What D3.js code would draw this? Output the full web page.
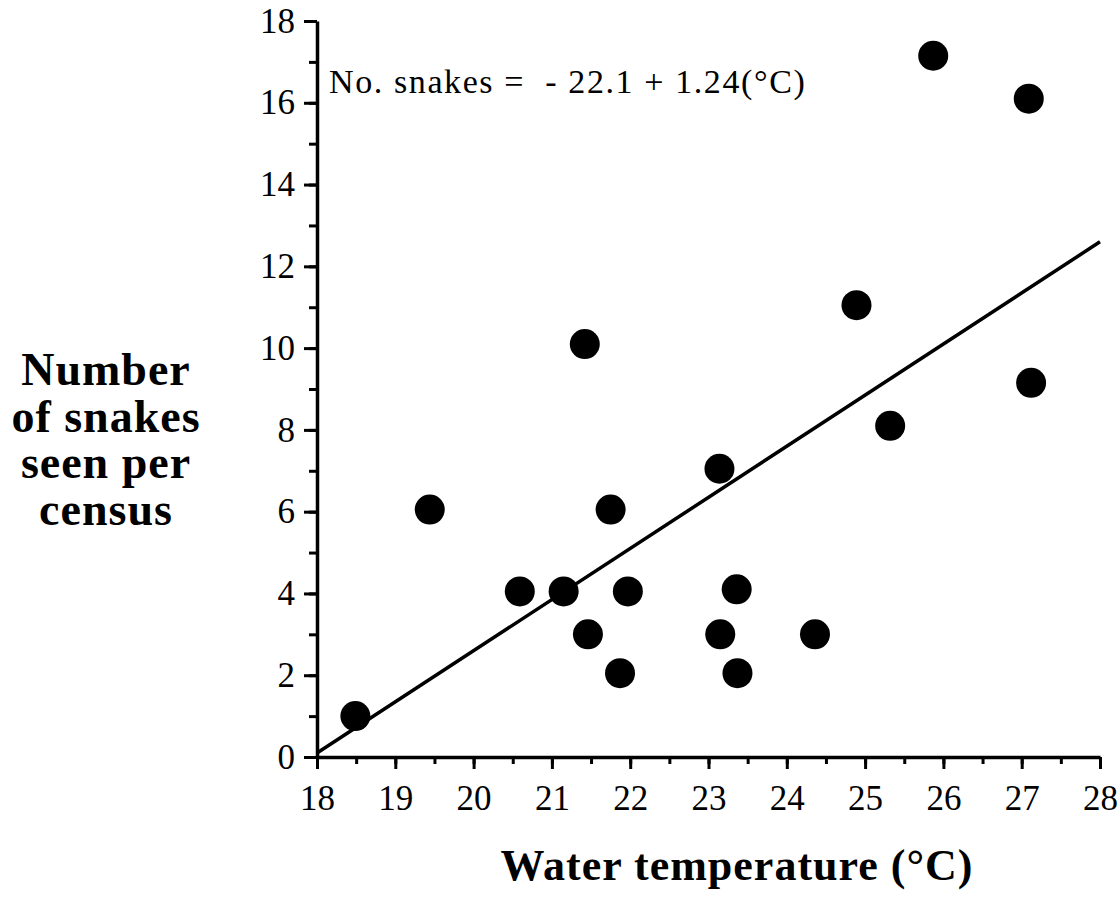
<!DOCTYPE html>
<html>
<head>
<meta charset="utf-8">
<script src="https://cdn.jsdelivr.net/npm/d3@7"></script>
<style>
  body { margin: 0; background: #fff; }
  svg { display: block; }
  text { font-family: "Liberation Serif", "Times New Roman", serif; fill: #000; }
  .title { font-weight: bold; }
</style>
</head>
<body>
<svg id="scatter" width="1119" height="897"></svg>
<script>
// water temperature (°C) and snakes counted
const tempC  = [18.49, 19.44, 20.59, 21.15, 21.42, 21.46, 21.75, 21.87, 21.97, 23.14,
                23.15, 23.36, 23.37, 24.36, 24.89, 25.32, 25.87, 27.09, 27.12];
const snakes = [1.0, 6.05, 4.05, 4.05, 10.1, 3.0, 6.05, 2.05, 4.05, 7.05,
                3.0, 4.1, 2.05, 3.0, 11.05, 8.1, 17.15, 16.1, 9.15];

const xMajor = [18, 19, 20, 21, 22, 23, 24, 25, 26, 27, 28];
const xMinor = d3.range(18, 28.01, 0.5);
const yMajor = [0, 2, 4, 6, 8, 10, 12, 14, 16, 18];
const yMinor = d3.range(0, 18.01, 1);

// fitted line as drawn
const fitLine = [[18, 0.1], [28, 12.6]];
const equation = "No. snakes =  - 22.1 + 1.24(°C)";

const yTitle = ["Number", "of snakes", "seen per", "census"];
const xTitle = "Water temperature (°C)";

const svg = d3.select("#scatter");
const margin = { top: 21, left: 317, right: 19, bottom: 140 };
const width = +svg.attr("width");
const height = +svg.attr("height");

const x = d3.scaleLinear().domain([18, 28]).range([margin.left, width - margin.right]);
const y = d3.scaleLinear().domain([0, 18]).range([height - margin.bottom, margin.top]);

const points = tempC.map((t, i) => ({ t, n: snakes[i] }));

// minor ticks
svg.append("g")
  .attr("transform", `translate(0,${y(0)})`)
  .call(d3.axisBottom(x).tickValues(xMinor).tickSize(7).tickFormat(""))
  .call(g => g.select(".domain").remove())
  .call(g => g.selectAll("line").attr("stroke-width", 3));

svg.append("g")
  .attr("transform", `translate(${x(18)},0)`)
  .call(d3.axisLeft(y).tickValues(yMinor).tickSize(8).tickFormat(""))
  .call(g => g.select(".domain").remove())
  .call(g => g.selectAll("line").attr("stroke-width", 3));

// major ticks + labels
svg.append("g")
  .attr("transform", `translate(0,${y(0)})`)
  .call(d3.axisBottom(x).tickValues(xMajor).tickSize(12).tickSizeOuter(0).tickPadding(16))
  .call(g => g.select(".domain").attr("stroke-width", 3.5))
  .call(g => g.selectAll("line").attr("stroke-width", 3))
  .call(g => g.selectAll("text").attr("font-size", 35).attr("font-family", "Liberation Serif"));

svg.append("g")
  .attr("transform", `translate(${x(18)},0)`)
  .call(d3.axisLeft(y).tickValues(yMajor).tickSize(13).tickSizeOuter(0).tickPadding(9))
  .call(g => g.select(".domain").attr("stroke-width", 3.5))
  .call(g => g.selectAll("line").attr("stroke-width", 3))
  .call(g => g.selectAll("text").attr("font-size", 35).attr("font-family", "Liberation Serif"));

// regression line
svg.append("path")
  .datum(fitLine)
  .attr("fill", "none")
  .attr("stroke", "#000")
  .attr("stroke-width", 3.5)
  .attr("d", d3.line().x(d => x(d[0])).y(d => y(d[1])));

// points
svg.selectAll("circle")
  .data(points)
  .enter()
  .append("circle")
  .attr("cx", d => x(d.t))
  .attr("cy", d => y(d.n))
  .attr("r", 15)
  .attr("fill", "#000");

svg.append("text")
  .attr("x", 329)
  .attr("y", 93)
  .attr("font-size", 34)
  .attr("letter-spacing", 1.6)
  .style("white-space", "pre")
  .text(equation);

svg.append("text")
  .attr("class", "title")
  .attr("text-anchor", "middle")
  .attr("font-size", 46)
  .attr("letter-spacing", 1)
  .selectAll("tspan")
  .data(yTitle)
  .enter()
  .append("tspan")
  .attr("x", 106)
  .attr("y", (d, i) => 385 + i * 46.5)
  .text(d => d);

svg.append("text")
  .attr("class", "title")
  .attr("text-anchor", "middle")
  .attr("x", 737)
  .attr("y", 880)
  .attr("font-size", 44)
  .attr("letter-spacing", 1)
  .text(xTitle);
</script>
</body>
</html>
